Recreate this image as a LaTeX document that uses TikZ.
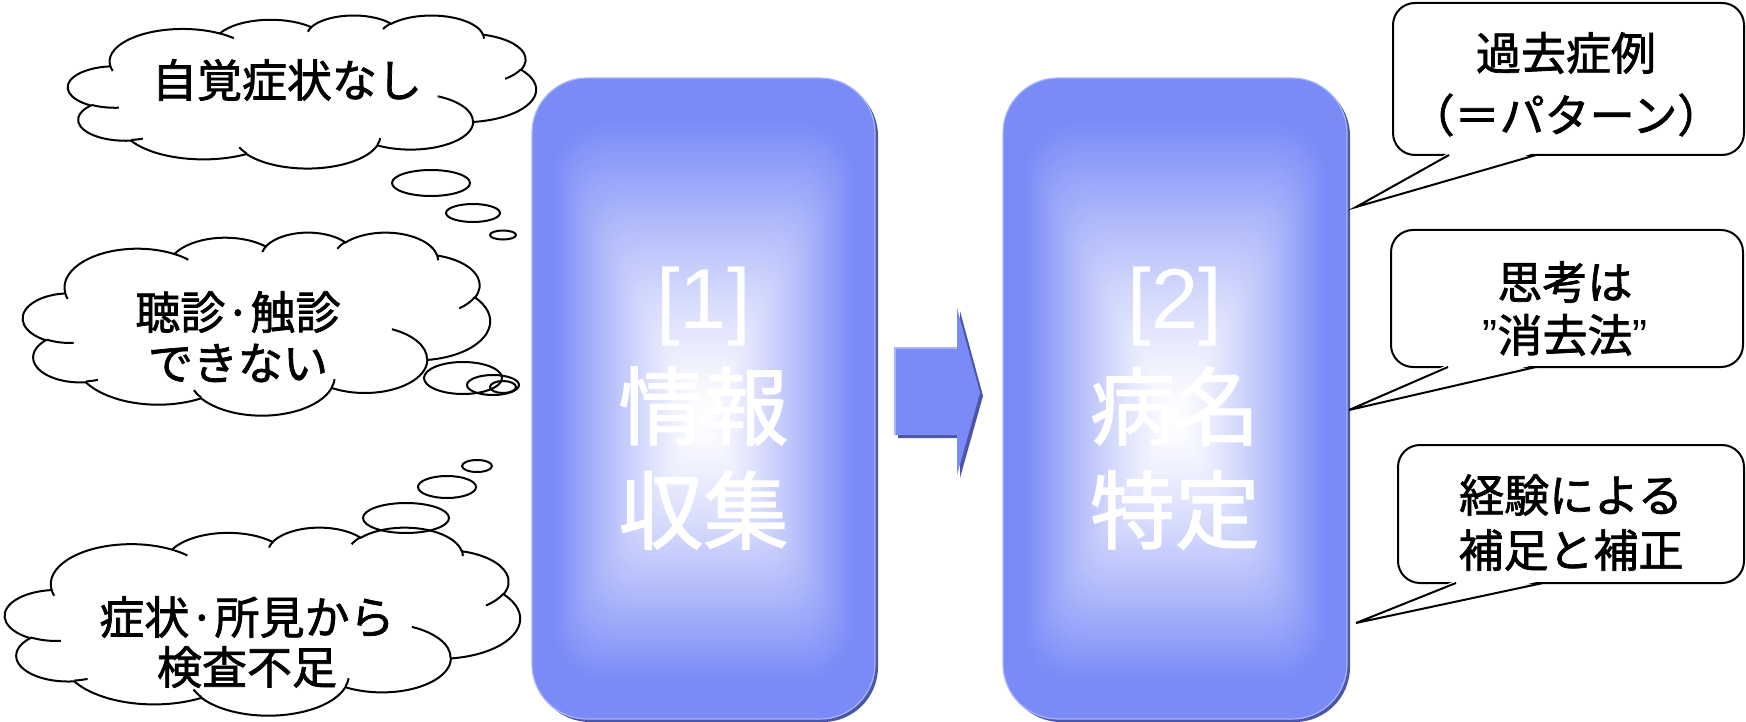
\documentclass[tikz,border=0pt]{standalone}
\usepackage{fontspec}
\setmainfont{Noto Sans CJK JP}[RawFeature={embolden=1.6}]
\newfontfamily\latf{Liberation Sans}
\usetikzlibrary{calc}
\definecolor{boxblue}{RGB}{122,138,247}
\definecolor{boxdark}{RGB}{76,86,168}
\definecolor{boxlight}{RGB}{170,182,250}

% OOXML-style arc: name, wR, hR, stAng, swAng (visual angles -> parametric)
\newcommand\defarc[5]{%
  \pgfmathsetmacro\tmpA{atan2(#2*sin(#4),#3*cos(#4))}%
  \pgfmathsetmacro\tmpB{atan2(#2*sin(#4+#5),#3*cos(#4+#5))}%
  \pgfmathsetmacro\tmpD{mod(\tmpB-\tmpA+720,360)}%
  \expandafter\let\csname ca#1s\endcsname\tmpA
  \expandafter\let\csname ca#1d\endcsname\tmpD}
\defarc{A}{67.53}{91.90}{-190.4875}{123.7805}
\defarc{B}{53.33}{72.67}{-144.1024}{89.9452}
\defarc{C}{43.65}{59.45}{-145.8079}{99.7230}
\defarc{D}{48.57}{65.95}{-130.9861}{117.2417}
\defarc{E}{53.33}{72.73}{-78.7089}{109.0269}
\defarc{F}{67.75}{92.20}{-46.2673}{130.2690}
\defarc{G}{57.85}{78.67}{0.6250}{114.0333}
\defarc{H}{67.52}{92.15}{22.4516}{115.1726}
\defarc{I}{77.20}{105.43}{66.2426}{75.7110}
\defarc{J}{43.60}{59.18}{-274.9421}{146.7356}
\defarc{K}{43.45}{59.45}{-246.8285}{152.5189}
\defarc{L}{43.45}{59.45}{86.742}{26.4295}
\defarc{M}{43.60}{59.18}{73.6105}{11.4475}
\defarc{N}{67.52}{92.15}{137.6242}{14.0811}
\defarc{O}{67.52}{92.15}{6.4533}{15.9984}
\defarc{P}{57.85}{78.67}{-70.2924}{70.9174}
\defarc{Q}{53.33}{72.73}{30.3180}{27.7515}
\defarc{R}{48.57}{65.95}{-13.7443}{14.8589}
\defarc{S}{48.57}{65.95}{-149.1815}{18.1954}
\defarc{T}{43.65}{59.45}{-163.4943}{17.6864}
\defarc{U}{67.53}{91.90}{-66.7070}{12.3194}
\defarc{V}{67.53}{91.90}{157.6544}{11.8582}

\newcommand\cloudat[4]{%
  \begin{scope}[shift={(#1,#2)},xscale=#3,yscale=#4]
    \filldraw[cloudline,fill=white] (39.00,143.70)
      arc[start angle=\caAs,delta angle=\caAd,x radius=67.53,y radius=91.90]
      arc[start angle=\caBs,delta angle=\caBd,x radius=53.33,y radius=72.67]
      arc[start angle=\caCs,delta angle=\caCd,x radius=43.65,y radius=59.45]
      arc[start angle=\caDs,delta angle=\caDd,x radius=48.57,y radius=65.95]
      arc[start angle=\caEs,delta angle=\caEd,x radius=53.33,y radius=72.73]
      arc[start angle=\caFs,delta angle=\caFd,x radius=67.75,y radius=92.20]
      arc[start angle=\caGs,delta angle=\caGd,x radius=57.85,y radius=78.67]
      arc[start angle=\caHs,delta angle=\caHd,x radius=67.52,y radius=92.15]
      arc[start angle=\caIs,delta angle=\caId,x radius=77.20,y radius=105.43]
      arc[start angle=\caJs,delta angle=\caJd,x radius=43.60,y radius=59.18]
      arc[start angle=\caKs,delta angle=\caKd,x radius=43.45,y radius=59.45]
      -- cycle;
    \draw[cloudline]
      (46.93,261.77) arc[start angle=\caLs,delta angle=\caLd,x radius=43.45,y radius=59.45]
      (69.28,348.99) arc[start angle=\caMs,delta angle=\caMd,x radius=43.60,y radius=59.18]
      (164.78,390.90) arc[start angle=\caNs,delta angle=\caNd,x radius=67.52,y radius=92.15]
      (288.27,347.51) arc[start angle=\caOs,delta angle=\caOd,x radius=67.52,y radius=92.15]
      (341.29,229.54) arc[start angle=\caPs,delta angle=\caPd,x radius=57.85,y radius=78.67]
      (417.98,153.54) arc[start angle=\caQs,delta angle=\caQd,x radius=53.33,y radius=72.73]
      (383.24,54.26) arc[start angle=\caRs,delta angle=\caRd,x radius=48.57,y radius=65.95]
      (290.78,39.52) arc[start angle=\caSs,delta angle=\caSd,x radius=48.57,y radius=65.95]
      (221.41,47.20) arc[start angle=\caTs,delta angle=\caTd,x radius=43.65,y radius=59.45]
      (140.00,51.92) arc[start angle=\caUs,delta angle=\caUd,x radius=67.53,y radius=91.90]
      (41.27,157.89) arc[start angle=\caVs,delta angle=\caVd,x radius=67.53,y radius=91.90];
  \end{scope}}

% gradient box: x0 y0 x1 y1 gx gy
\newcommand\gradbox[6]{%
  \fill[boxdark,rounded corners=55pt] (#1+3,#2+3) rectangle (#3+3,#4+3);
  \foreach \i in {0,...,59}{%
    \pgfmathsetmacro\gT{\i/60}%
    \pgfmathsetmacro\gP{\gT<0.12 ? 100 : 100*((1-\gT)/0.88)^1.3}%
    \pgfmathsetmacro\gR{55*(1-\gT)+0.01}%
    \pgfmathsetmacro\gAx{#1+\gT*(#5-#1)}%
    \pgfmathsetmacro\gAy{#2+\gT*(#6-#2)}%
    \pgfmathsetmacro\gBx{#3-\gT*(#3-#5)}%
    \pgfmathsetmacro\gBy{#4-\gT*(#4-#6)}%
    \fill[boxblue!\gP!white,rounded corners=\gR pt] (\gAx,\gAy) rectangle (\gBx,\gBy);
  }
  \draw[boxlight,line width=1.2pt,rounded corners=55pt] (#1,#2) rectangle (#3,#4);
}

\begin{document}
\begin{tikzpicture}[x=1pt,y=-1pt,
  cloudline/.style={draw=black,line width=2pt},
  calbox/.style={draw=black,line width=2pt,fill=white,rounded corners=22pt,inner sep=0pt},
  calline/.style={draw=black,line width=2pt,line join=miter},
  jtext/.style={font=\fontsize{45}{54}\selectfont,inner sep=0pt},
  btext/.style={font=\fontsize{85}{100}\selectfont,text=white,inner sep=0pt},
  boxnode/.style={inner sep=0pt,draw=none}]

\useasboundingbox (0,0) rectangle (1746,722);
\fill[white] (0,0) rectangle (1746,722);

% ---- thought clouds ----
\cloudat{68}{15}{1.08333}{0.354167}
\draw[cloudline] (431,183) ellipse[x radius=39,y radius=13];
\draw[cloudline] (473,213) ellipse[x radius=27,y radius=9];
\draw[cloudline] (503,235) ellipse[x radius=13,y radius=4.5];
\node[jtext] (q1) at (287,80) {自覚症状なし};

\cloudat{23}{232}{1.08102}{0.423611}
\draw[cloudline] (463,378) ellipse[x radius=39,y radius=16];
\draw[cloudline] (493,385) ellipse[x radius=26,y radius=10];
\draw[cloudline] (503,387) ellipse[x radius=13,y radius=6];
\node[jtext] (q2a) at (238,312) {聴診·触診};
\node[jtext] (q2b) at (238,363) {できない};

\cloudat{5}{527}{1.19213}{0.435185}
\draw[cloudline] (406,518) ellipse[x radius=43,y radius=15];
\draw[cloudline] (447,487) ellipse[x radius=29,y radius=11];
\draw[cloudline] (477,466) ellipse[x radius=15,y radius=6];
\node[jtext] (q3a) at (247,617) {症状·所見から};
\node[jtext] (q3b) at (247,667) {検査不足};

% ---- process boxes ----
\node[boxnode,minimum width=343pt,minimum height=641pt] (box1) at (703.5,398.5) {};
\gradbox{532}{78}{875}{719}{703.5}{419}
\node[btext] (b1a) at (703.5,307) {\latf [1]};
\node[btext] (b1b) at (703.5,406) {情報};
\node[btext] (b1c) at (703.5,510) {収集};

\node[boxnode,minimum width=344pt,minimum height=641pt] (box2) at (1175,398.5) {};
\gradbox{1003}{78}{1347}{719}{1175}{419}
\node[btext] (b2a) at (1175,307) {\latf [2]};
\node[btext] (b2b) at (1175,406) {病名};
\node[btext] (b2c) at (1175,510) {特定};

% ---- block arrow ----
\fill[boxdark] (898,351) -- (960,351) -- (960,311) -- (983,396) -- (960,478) -- (960,438) -- (898,438) -- cycle;
\fill[boxblue] (895,348) -- (957,348) -- (957,308) -- (980,393) -- (957,475) -- (957,435) -- (895,435) -- cycle;
\draw[boxlight,line width=1.2pt] (895,435) -- (895,348) -- (957,348);

% ---- callouts ----
\node[calbox,minimum width=351pt,minimum height=152pt] (c1) at (1568.5,79) {};
\coordinate (c1a) at (1449,155);
\coordinate (c1b) at (1536,155);
\coordinate (c1t) at (1356,207);
\fill[white] ($(c1a)+(0,-2.5)$) -- (c1t) -- ($(c1b)+(0,-2.5)$) -- cycle;
\draw[calline] (c1a) -- (c1t) -- (c1b);
\node[jtext] (c1l1) at (1566,53) {過去症例};
\node[jtext] (c1l2) at (1566,115) {（＝パターン）};

\node[calbox,minimum width=352pt,minimum height=137pt] (c2) at (1567,298.5) {};
\coordinate (c2a) at (1448,367);
\coordinate (c2b) at (1536,367);
\coordinate (c2t) at (1349,410);
\fill[white] ($(c2a)+(0,-2.5)$) -- (c2t) -- ($(c2b)+(0,-2.5)$) -- cycle;
\draw[calline] (c2a) -- (c2t) -- (c2b);
\node[jtext] (c2l1) at (1565,282) {思考は};
\node[jtext] (c2l2) at (1565,335) {{\latf ”}消去法{\latf ”}};

\node[calbox,minimum width=346pt,minimum height=138pt] (c3) at (1571,514) {};
\coordinate (c3a) at (1456,583);
\coordinate (c3b) at (1543,583);
\coordinate (c3t) at (1356,623);
\fill[white] ($(c3a)+(0,-2.5)$) -- (c3t) -- ($(c3b)+(0,-2.5)$) -- cycle;
\draw[calline] (c3a) -- (c3t) -- (c3b);
\node[jtext] (c3l1) at (1571,495) {経験による};
\node[jtext] (c3l2) at (1571,550) {補足と補正};

\end{tikzpicture}
\end{document}
